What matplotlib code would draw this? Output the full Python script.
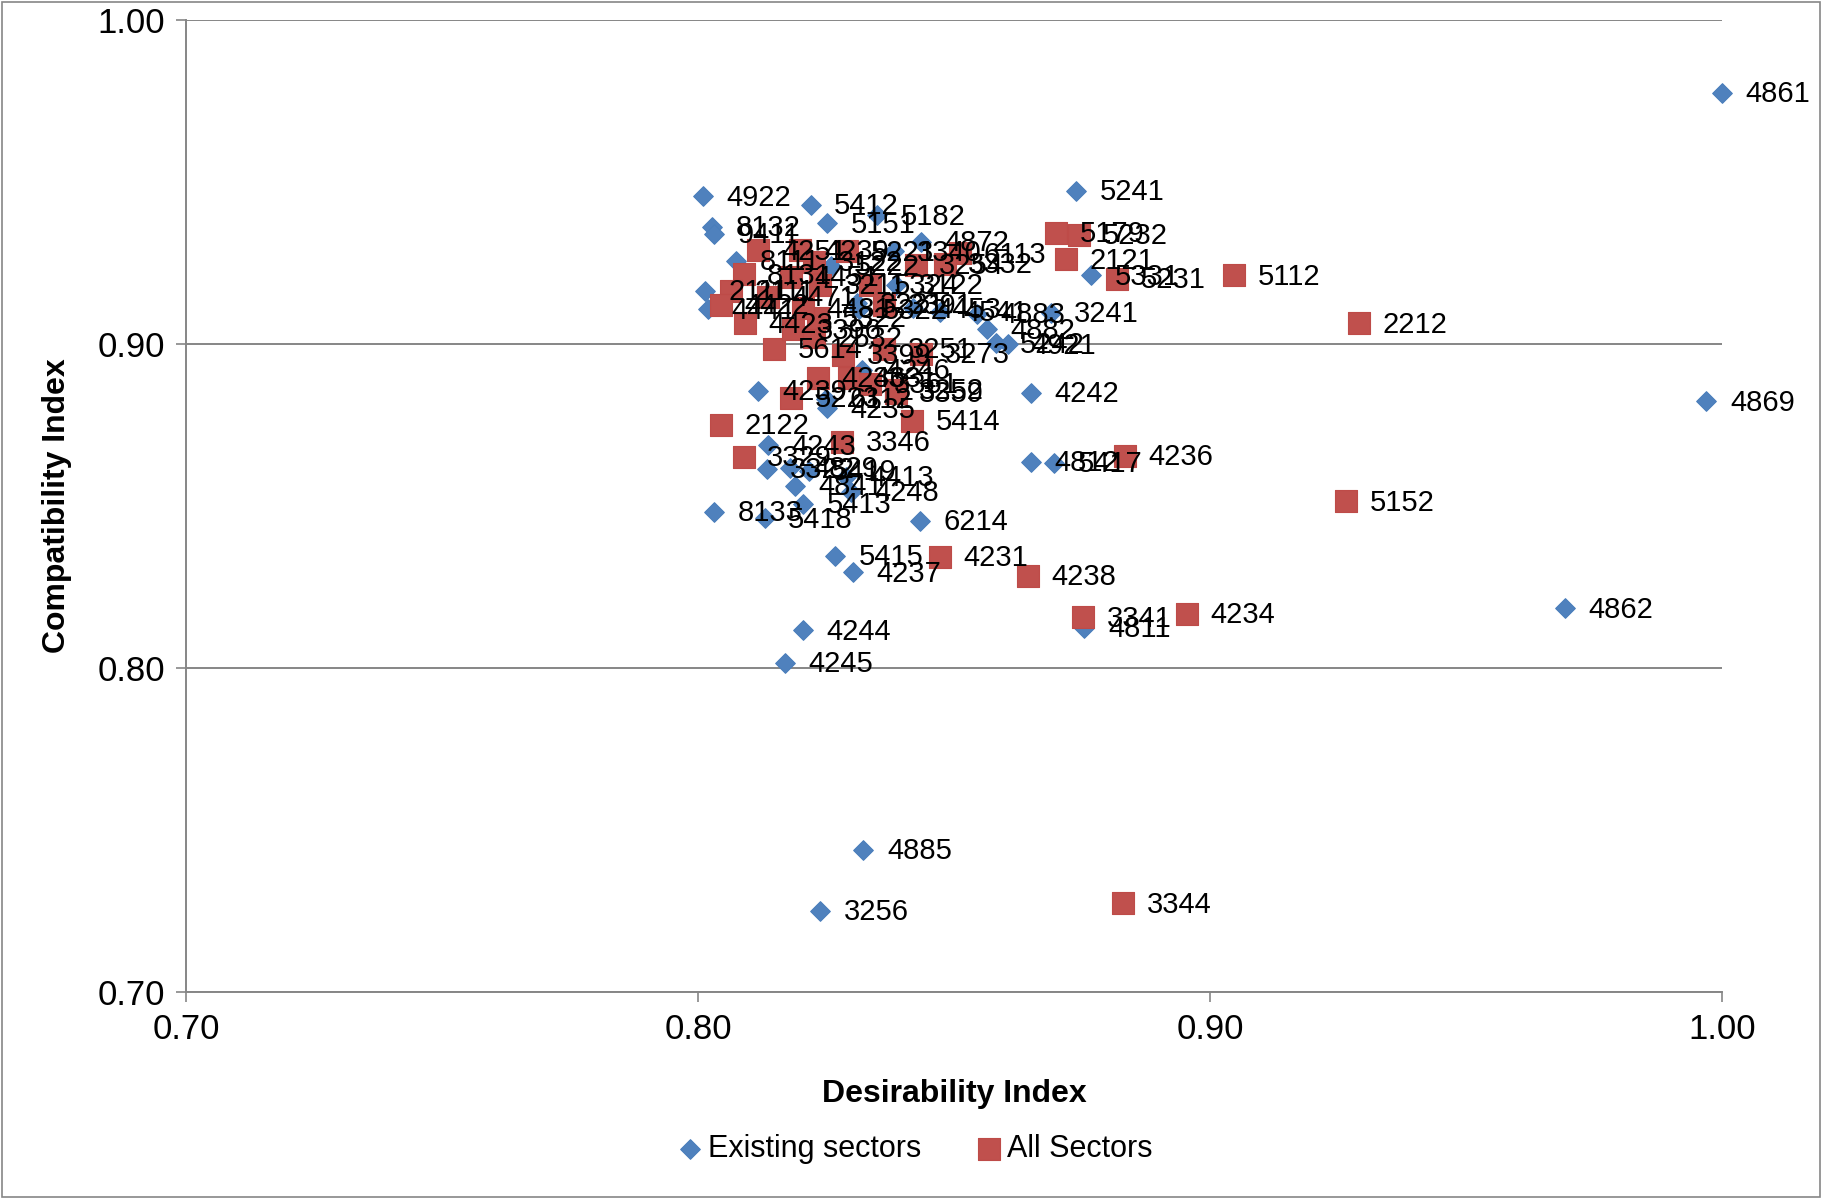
import matplotlib.pyplot as plt
from matplotlib.patches import Rectangle

plt.rcParams['font.family'] = ['Liberation Sans', 'DejaVu Sans']

# Existing sectors (blue diamonds)
blue_labels = ['4861', '4922', '5412', '5151', '5182', '5241', '8132', '9411', '4872', '3340',
               '5331', '4883', '4882', '5242', '4921', '3241', '4242', '4869', '4812', '5417',
               '4811', '4862', '4885', '3256', '4244', '4245', '5415', '4237', '6214', '5413',
               '5418', '8133', '4248', '4841', '4413', '4243', '3322', '4829', '5419', '4235',
               '4239', '2111', '4441', '8111', '5222', '3122', '3221', '4541', '5322', '6112',
               '4453', '4246']
blue_x = [1.000, 0.8009, 0.8220, 0.8252, 0.8350, 0.8739, 0.8027, 0.8032, 0.8436, 0.8382,
          0.8768, 0.8545, 0.8564, 0.8582, 0.8605, 0.8689, 0.8650, 0.9970, 0.8650, 0.8695,
          0.8755, 0.9693, 0.8323, 0.8239, 0.8205, 0.8170, 0.8268, 0.8302, 0.8434, 0.8205,
          0.8130, 0.8032, 0.8298, 0.8189, 0.8289, 0.8136, 0.8134, 0.8180, 0.8216, 0.8252,
          0.8118, 0.8014, 0.8020, 0.8075, 0.8260, 0.8386, 0.8310, 0.8473, 0.8314, 0.8250,
          0.8420, 0.8320]
blue_y = [0.9774, 0.9455, 0.9429, 0.9372, 0.9397, 0.9472, 0.9361, 0.9340, 0.9315, 0.9286,
          0.9211, 0.9092, 0.9045, 0.9002, 0.8999, 0.9096, 0.8848, 0.8823, 0.8636, 0.8633,
          0.8123, 0.8184, 0.7438, 0.7251, 0.8116, 0.8016, 0.8346, 0.8295, 0.8453, 0.8507,
          0.8461, 0.8482, 0.8543, 0.8561, 0.8590, 0.8687, 0.8615, 0.8618, 0.8608, 0.8801,
          0.8855, 0.9164, 0.9106, 0.9257, 0.9240, 0.9182, 0.9125, 0.9099, 0.9106, 0.8830,
          0.9110, 0.8920]

# All sectors (red squares)
red_labels = ['5112', '2212', '5152', '4236', '4234', '3341', '3344', '4238', '4231', '5414',
              '3273', '5179', '5232', '2121', '5231', '6113', '3254', '2122', '3329', '4251',
              '8131', '5223', '3346', '5614', '2111', '4422', '4423', '3396', '4246', '3331',
              '3252', '2532', '5221', '3122', '4451', '3211', '5324', '3391', '5322', '3399',
              '3251', '3359', '3361', '4239', '3332', '4471', '4481']
red_x = [0.9048, 0.9291, 0.9266, 0.8834, 0.8955, 0.8752, 0.8830, 0.8645, 0.8473, 0.8418,
         0.8436, 0.8700, 0.8745, 0.8718, 0.8818, 0.8511, 0.8425, 0.8045, 0.8089, 0.8118,
         0.8089, 0.8182, 0.8282, 0.8148, 0.8064, 0.8045, 0.8091, 0.8186, 0.8234, 0.8295,
         0.8386, 0.8227, 0.8291, 0.8227, 0.8182, 0.8239, 0.8336, 0.8364, 0.8234, 0.8284,
         0.8364, 0.8386, 0.8336, 0.8200, 0.8482, 0.8136, 0.8205]
red_y = [0.9211, 0.9063, 0.8514, 0.8654, 0.8166, 0.8156, 0.7273, 0.8285, 0.8342, 0.8762,
         0.8970, 0.9343, 0.9336, 0.9261, 0.9200, 0.9279, 0.9243, 0.8751, 0.8651, 0.9289,
         0.9214, 0.8834, 0.8697, 0.8984, 0.9164, 0.9121, 0.9063, 0.9045, 0.8895, 0.8895,
         0.8859, 0.9020, 0.9286, 0.9254, 0.9207, 0.9182, 0.9182, 0.9121, 0.9081, 0.8967,
         0.8984, 0.8848, 0.8877, 0.9289, 0.9246, 0.9146, 0.9110]

ticks = [0.70, 0.80, 0.90, 1.00]

fig = plt.figure(figsize=(18.24, 11.98), dpi=100)
ax = fig.add_axes([0.102, 0.172, 0.842, 0.8115])

ax.scatter(blue_x, blue_y, marker='D', s=100, color='#4F81BD', edgecolor='#4A7EBB',
           linewidth=0.8, label='Existing sectors', zorder=3, clip_on=False)
ax.scatter(red_x, red_y, marker='s', s=235, color='#C0504D', edgecolor='#BE4B48',
           linewidth=0.8, label='All Sectors', zorder=4, clip_on=False)

for lab, x, y in zip(blue_labels, blue_x, blue_y):
    ax.annotate(lab, (x, y), xytext=(17, -1), textcoords='offset points',
                va='center', ha='left', fontsize=21, zorder=6, annotation_clip=False)
for lab, x, y in zip(red_labels, red_x, red_y):
    ax.annotate(lab, (x, y), xytext=(17, -1), textcoords='offset points',
                va='center', ha='left', fontsize=21, zorder=6, annotation_clip=False)

ax.set_xlim(0.70, 1.00)
ax.set_ylim(0.70, 1.00)
ax.set_xticks(ticks)
ax.set_yticks(ticks)
ax.set_xticklabels(['%.2f' % t for t in ticks], fontsize=25)
ax.set_yticklabels(['%.2f' % t for t in ticks], fontsize=25)
ax.tick_params(direction='out', length=7, width=1.2, color='#868686', pad=8)

ax.grid(axis='y', color='#868686', linewidth=1.4)
ax.set_axisbelow(True)
for side in ['top', 'right']:
    ax.spines[side].set_visible(False)
for side in ['left', 'bottom']:
    ax.spines[side].set_color('#868686')
    ax.spines[side].set_linewidth(1.4)

fig.text(0.523, 0.087, 'Desirability Index', ha='center', va='center',
         fontsize=23, fontweight='bold')
fig.text(0.031, 0.578, 'Compatibility Index', ha='center', va='center',
         rotation=90, fontsize=23, fontweight='bold')

fig.legend(loc='center', bbox_to_anchor=(0.500, 0.041), ncol=2, frameon=False,
           fontsize=22, handletextpad=0.0, columnspacing=1.6, markerscale=1.0,
           handlelength=1.2)

fig.patches.append(Rectangle((0.001, 0.001), 0.997, 0.997, transform=fig.transFigure,
                             fill=False, edgecolor='#868686', linewidth=1.2))

fig.savefig('out.png', dpi=100)
